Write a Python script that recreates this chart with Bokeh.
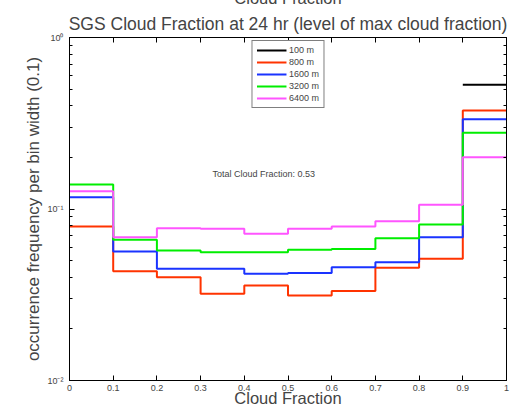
from bokeh.plotting import figure
from bokeh.models import (Range1d, LinearAxis, LogAxis, FixedTicker, CustomJSTickFormatter,
                          Label, Legend, Title)
from bokeh.embed import file_html
from bokeh.resources import INLINE

# ---- data ----
bin_edges = [0.0, 0.1, 0.2, 0.3, 0.4, 0.5, 0.6, 0.7, 0.8, 0.9, 1.0]
series_names = ["100 m", "800 m", "1600 m", "3200 m", "6400 m"]
freq_100m = [0, 0, 0, 0, 0, 0, 0, 0, 0, 0.53]
freq_800m = [0.079, 0.0434, 0.0400, 0.0320, 0.0358, 0.0313, 0.0332, 0.0454, 0.0512, 0.375]
freq_1600m = [0.117, 0.0565, 0.0448, 0.0448, 0.0419, 0.0424, 0.0458, 0.0490, 0.0685, 0.334]
freq_3200m = [0.139, 0.0661, 0.0573, 0.0560, 0.0560, 0.0578, 0.0585, 0.0676, 0.0812, 0.278]
freq_6400m = [0.127, 0.0685, 0.0773, 0.0766, 0.0717, 0.0766, 0.0791, 0.0849, 0.1058, 0.200]
x_ticks = [0.0, 0.1, 0.2, 0.3, 0.4, 0.5, 0.6, 0.7, 0.8, 0.9, 1.0]
y_ticks = [0.01, 0.1, 1.0]
y_minor_ticks = [m * d for d in (0.01, 0.1) for m in range(2, 10)]
total_cloud_fraction = 0.53

colors = ["#000000", "#ff3300", "#1a33ff", "#00ee00", "#ff55ff"]
all_series = [freq_100m, freq_800m, freq_1600m, freq_3200m, freq_6400m]

FONT = "Liberation Sans"
TOP_HIDDEN = 14  # canvas rows above the visible window (the reference is cropped at the top)

p = figure(width=524, height=409 + TOP_HIDDEN, output_backend="svg", toolbar_location=None,
           x_range=Range1d(0, 1), y_range=Range1d(0.01, 1), y_axis_type="log",
           min_border_left=69, min_border_right=18, min_border_top=37 + TOP_HIDDEN,
           min_border_bottom=28, x_axis_location=None, y_axis_location=None)
p.styles = {"margin-top": f"-{TOP_HIDDEN}px"}
p.title = None
p.grid.visible = False
p.outline_line_color = "black"
p.outline_line_width = 1
p.background_fill_color = "white"
p.border_fill_color = "white"

xfmt = CustomJSTickFormatter(code="""
    let s = tick.toFixed(1);
    if (s.endsWith('.0')) s = s.slice(0, -2);
    return s;
""")
yfmt = CustomJSTickFormatter(code="""
    const e = Math.round(Math.log10(tick));
    const sup = {'-':'\u207b','0':'\u2070','1':'\u00b9','2':'\u00b2','3':'\u00b3'};
    return '10' + String(e).split('').map(c => sup[c]).join('');
""")
blank = CustomJSTickFormatter(code="return '';")

def style_axis(ax, labels=True):
    ax.axis_line_color = "black"
    ax.major_tick_in = 5
    ax.major_tick_out = 0
    ax.minor_tick_in = 3
    ax.minor_tick_out = 0
    ax.major_tick_line_color = "black"
    ax.minor_tick_line_color = "black"
    ax.major_label_text_font = FONT
    ax.major_label_text_font_size = "9px"
    if not labels:
        ax.major_label_text_color = None
        ax.major_label_standoff = 0
    ax.axis_label_text_font = FONT
    ax.axis_label_text_font_size = "17px"
    ax.axis_label_text_font_style = "normal"

xb = LinearAxis(ticker=FixedTicker(ticks=x_ticks), formatter=xfmt, axis_label="Cloud Fraction")
style_axis(xb)
xb.minor_tick_line_color = None
xb.major_label_standoff = 4
xb.axis_label_standoff = -5
xb.axis_label_text_font_size = "16.5px"
p.add_layout(xb, "below")

xt = LinearAxis(ticker=FixedTicker(ticks=x_ticks), formatter=blank)
style_axis(xt, labels=False)
xt.minor_tick_line_color = None
p.add_layout(xt, "above")

main_title = Title(text="SGS Cloud Fraction at 24 hr (level of max cloud fraction)",
                   align="center", text_font=FONT, text_font_size="17.5px",
                   text_font_style="normal", standoff=8)
p.add_layout(main_title, "above")
# x-label of the panel above, mostly cropped away in the reference
top_title = Title(text="Cloud Fraction", align="center", text_font=FONT,
                  text_font_size="16.5px", text_font_style="normal", standoff=1)
p.add_layout(top_title, "above")

yticker = FixedTicker(ticks=y_ticks, minor_ticks=y_minor_ticks)
yl = LogAxis(ticker=yticker, formatter=yfmt,
             axis_label="occurrence frequency per bin width (0.1)")
style_axis(yl)
yl.major_label_standoff = 6
yl.axis_label_standoff = 1
p.add_layout(yl, "left")

yr = LogAxis(ticker=yticker, formatter=blank)
style_axis(yr, labels=False)
p.add_layout(yr, "right")

items = []
for name, vals, c in zip(series_names, all_series, colors):
    xs, ys = [], []
    for i, v in enumerate(vals):
        yv = v if v > 0 else float("nan")
        xs += [bin_edges[i], bin_edges[i + 1]]
        ys += [yv, yv]
    r = p.line(xs, ys, line_color=c, line_width=2)
    items.append((name, [r]))

legend = Legend(items=items, location="top_center")
legend.label_text_font = FONT
legend.label_text_font_size = "9px"
legend.glyph_width = 30
legend.glyph_height = 10
legend.label_height = 10
legend.spacing = 2
legend.padding = 4
legend.margin = 3
legend.label_standoff = 3
legend.border_line_color = "black"
legend.border_line_width = 1.5
legend.background_fill_alpha = 1
p.add_layout(legend, "center")

p.add_layout(Label(x=0.327, y=0.159, text=f"Total Cloud Fraction: {total_cloud_fraction}",
                   text_font=FONT, text_font_size="9px", text_baseline="middle"))

open("out.html", "w").write(file_html(p, INLINE))
